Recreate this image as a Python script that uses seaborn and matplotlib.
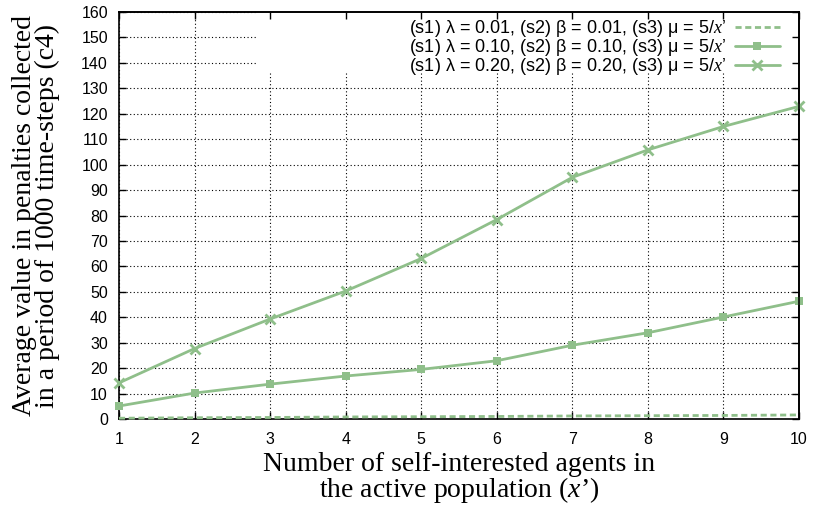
import matplotlib
matplotlib.use("Agg")
import matplotlib.pyplot as plt
import matplotlib.patches as mpatches
import numpy as np
import pandas as pd
import seaborn as sns

# Number of self-interested agents in the active population
agents = [1, 2, 3, 4, 5, 6, 7, 8, 9, 10]

# Average penalty value collected over 1000 time-steps (c4)
pen_low = [0.3, 0.5, 0.6, 0.8, 0.9, 1.0, 1.2, 1.3, 1.4, 1.6]
pen_mid = [5.1, 10.2, 13.7, 16.9, 19.5, 22.9, 29.0, 33.9, 40.1, 46.3]
pen_high = [14.2, 27.7, 39.3, 50.3, 63.1, 78.4, 95.0, 105.8, 115.0, 122.9]

labels = [
    "(s1) λ = 0.01, (s2) β = 0.01, (s3) μ = 5/$x$’",
    "(s1) λ = 0.10, (s2) β = 0.10, (s3) μ = 5/$x$’",
    "(s1) λ = 0.20, (s2) β = 0.20, (s3) μ = 5/$x$’",
]

x_ticks = [1, 2, 3, 4, 5, 6, 7, 8, 9, 10]
y_ticks = list(range(0, 161, 10))

sns.set_theme(style="ticks")
plt.rcParams["font.family"] = ["Liberation Sans", "DejaVu Sans"]
plt.rcParams["mathtext.fontset"] = "custom"
plt.rcParams["mathtext.it"] = "Liberation Serif:italic"
plt.rcParams["mathtext.rm"] = "Liberation Serif"

green = "#8fbf8a"

fig = plt.figure(figsize=(8.13, 5.09), dpi=100)
ax = fig.add_axes([119 / 813, 1 - 419 / 509, 680 / 813, 407 / 509])

df = pd.DataFrame({"agents": agents, "low": pen_low, "mid": pen_mid, "high": pen_high})

sns.lineplot(data=df, x="agents", y="low", ax=ax, color=green, lw=2.0,
             label=labels[0], clip_on=False, zorder=3)
ax.lines[-1].set_dashes((2.2, 1.3))
sns.lineplot(data=df, x="agents", y="mid", ax=ax, color=green, lw=2.0,
             marker="s", markersize=6, markeredgewidth=0, markeredgecolor=green,
             label=labels[1], clip_on=False, zorder=3)
sns.lineplot(data=df, x="agents", y="high", ax=ax, color=green, lw=2.0,
             marker="x", markersize=7, markeredgewidth=2.0, markeredgecolor=green,
             label=labels[2], clip_on=False, zorder=3)

ax.set_xlim(1, 10)
ax.set_ylim(0, 160)
ax.set_xticks(x_ticks)
ax.set_yticks(y_ticks)

ax.set_axisbelow(True)
ax.grid(True, color="black", linestyle=(0, (1, 2.2)), linewidth=0.8)

# opaque key area hides the grid behind the legend
ax.add_patch(mpatches.Rectangle((0.204, 0.85), 0.796, 0.15, transform=ax.transAxes,
                                facecolor="white", edgecolor="none", zorder=0.8))

ax.tick_params(axis="both", direction="in", length=5, width=1.0, colors="black",
               labelsize=11.5, top=False, right=False)
ax.tick_params(axis="x", pad=9)
ax.tick_params(axis="y", pad=8)

# mirrored ticks on the top and right edges, drawn above the key area
secx = ax.secondary_xaxis("top")
secx.set_xticks(x_ticks)
secx.tick_params(direction="in", length=5, width=1.0, labeltop=False, colors="black")
secx.set_zorder(4)
secy = ax.secondary_yaxis("right")
secy.set_yticks(y_ticks)
secy.tick_params(direction="in", length=5, width=1.0, labelright=False, colors="black")
secy.set_zorder(4)
for s in list(secx.spines.values()) + list(secy.spines.values()):
    s.set_linewidth(1.2)
    s.set_color("black")

for s in ax.spines.values():
    s.set_visible(True)
    s.set_linewidth(1.2)
    s.set_color("black")

ax.set_xlabel("Number of self-interested agents in\nthe active population ($x$’)",
              family="Liberation Serif", fontsize=20, linespacing=0.9, labelpad=4,
              color="black")
ax.set_ylabel("Average value in penalties collected\nin a period of 1000 time-steps (c4)",
              family="Liberation Serif", fontsize=20, linespacing=0.9, labelpad=15,
              color="black")

leg = ax.legend(loc="upper right", markerfirst=False, frameon=False, fontsize=13,
                handlelength=2.5, handletextpad=0.5, labelspacing=-0.1,
                borderaxespad=0.0, borderpad=0.0, bbox_to_anchor=(0.972, 0.985))
for t in leg.get_texts():
    t.set_color("black")

fig.savefig("out.png", dpi=100)
